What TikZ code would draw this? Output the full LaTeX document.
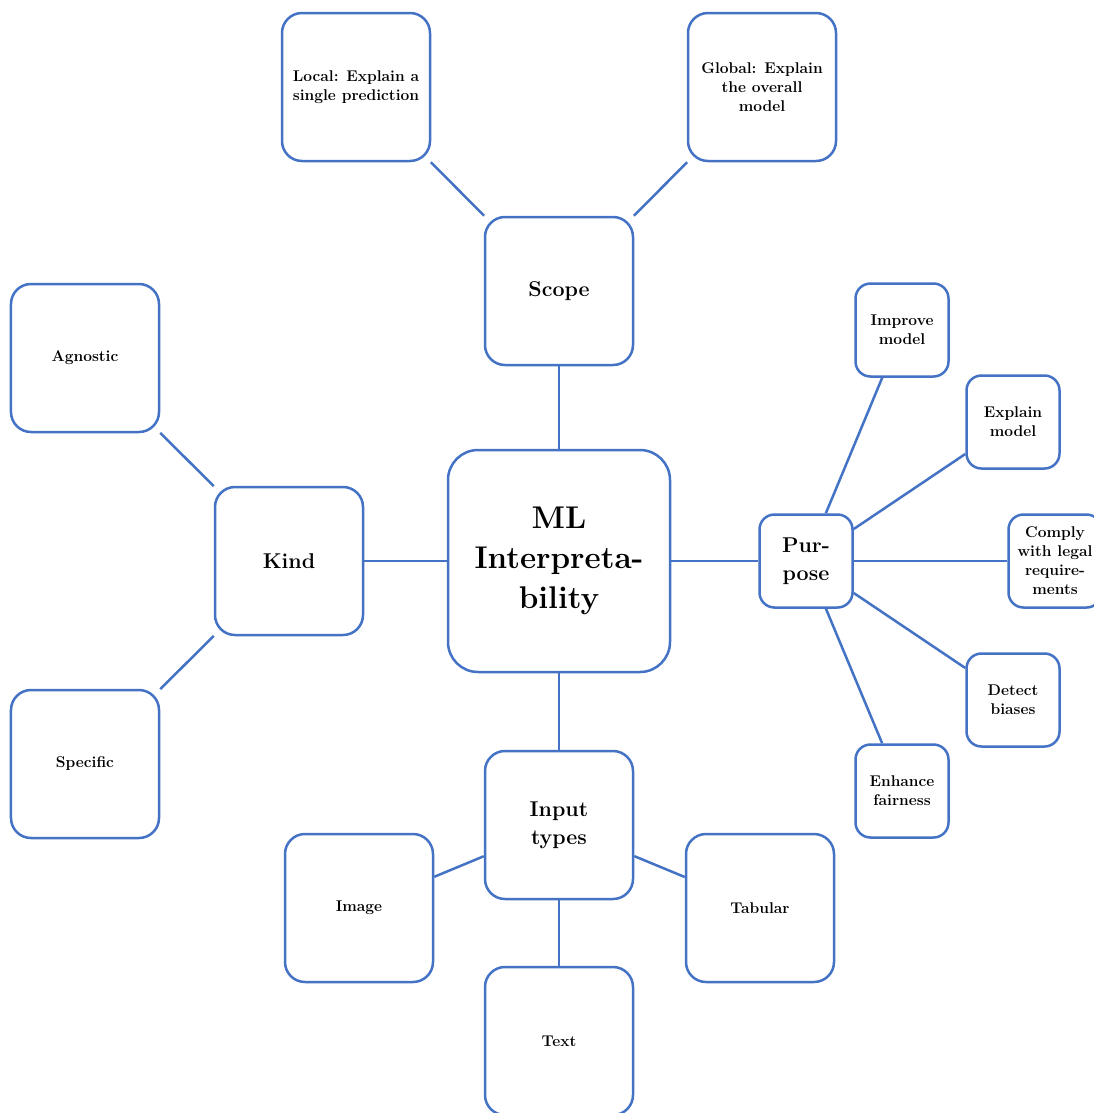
\documentclass[tikz,border=0pt]{standalone}
\usepackage{xcolor}
\definecolor{boxblue}{HTML}{4472C4}
\begin{document}
\begin{tikzpicture}[x=1bp,y=-1bp,
  box/.style={draw=boxblue, line width=2.5bp, fill=white, rounded corners=20bp,
    minimum width=148bp, minimum height=148bp, inner sep=0pt, align=center,
    font=\bfseries\fontsize{15.6}{19}\selectfont},
  midbox/.style={box, font=\bfseries\fontsize{21.5}{28}\selectfont},
  smallbox/.style={box, rounded corners=15bp, minimum width=93bp, minimum height=93bp},
  bigbox/.style={box, rounded corners=30bp, minimum width=222bp, minimum height=222bp,
    font=\bfseries\fontsize{31.5}{40}\selectfont},
  link/.style={draw=boxblue, line width=2.5bp}]
\useasboundingbox (0,0) rectangle (1094,1113);
\fill[white] (0,0) rectangle (1094,1113);
\node[bigbox] (ml) at (559,561) {ML\\Interpreta-\\bility};
\node[midbox] (scope) at (559,291) {Scope};
\node[box] (local) at (356,87) {Local: Explain a\\single prediction};
\node[box] (global) at (762,87) {Global: Explain\\the overall\\model};
\node[midbox] (kind) at (289,561) {Kind};
\node[box] (agn) at (85,358) {Agnostic};
\node[box] (spec) at (85,764) {Specific};
\node[midbox, rounded corners=15bp, minimum width=93bp, minimum height=93bp] (purp) at (806,561) {Pur-\\pose};
\node[smallbox] (impr) at (902,330) {Improve\\model};
\node[smallbox] (expl) at (1013,422) {Explain\\model};
\node[smallbox] (comp) at (1055,561) {Comply\\with legal\\require-\\ments};
\node[smallbox] (det) at (1013,700) {Detect\\biases};
\node[smallbox] (enh) at (902,791) {Enhance\\fairness};
\node[midbox] (inp) at (559,825) {Input\\types};
\node[box] (img) at (359,908) {Image};
\node[box] (tab) at (760,908) {Tabular};
\node[box] (txt) at (559,1041) {Text};
\draw[link] (ml) -- (scope);
\draw[link] (ml) -- (kind);
\draw[link] (ml) -- (purp);
\draw[link] (ml) -- (inp);
\draw[link] (scope) -- (local);
\draw[link] (scope) -- (global);
\draw[link] (kind) -- (agn);
\draw[link] (kind) -- (spec);
\draw[link] (purp) -- (impr);
\draw[link] (purp) -- (expl);
\draw[link] (purp) -- (comp);
\draw[link] (purp) -- (det);
\draw[link] (purp) -- (enh);
\draw[link] (inp) -- (img);
\draw[link] (inp) -- (tab);
\draw[link] (inp) -- (txt);
\end{tikzpicture}
\end{document}
